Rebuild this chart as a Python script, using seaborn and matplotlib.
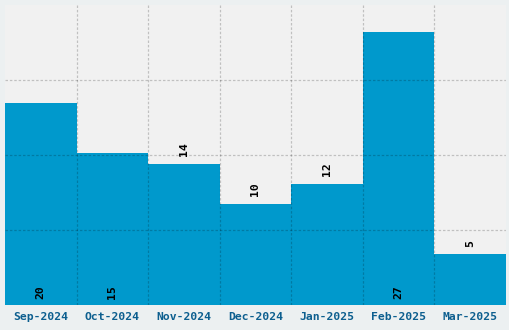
import matplotlib
matplotlib.use("Agg")
import matplotlib.pyplot as plt
import seaborn as sns
import pandas as pd
from matplotlib.ticker import FixedLocator

months = ["Sep-2024", "Oct-2024", "Nov-2024", "Dec-2024", "Jan-2025", "Feb-2025", "Mar-2025"]
values = [20, 15, 14, 10, 12, 27, 5]

df = pd.DataFrame({"month": months, "value": values})

sns.set_style("white")
plt.rcParams["font.family"] = ["DejaVu Sans Mono", "DejaVu Sans"]

fig = plt.figure(figsize=(5.1, 3.3), dpi=100, facecolor="#ecf0f1")
ax = fig.add_axes([5 / 510, 25 / 330, 501 / 510, 300 / 330])
ax.set_facecolor("#f1f1f1")

sns.barplot(data=df, x="month", y="value", color="#0099cc", saturation=1,
            width=1.0, ax=ax, zorder=1)
for p in ax.patches:
    p.set_edgecolor("none")

ymax = max(values) * 1.1
ax.set_xlim(-0.5, len(months) - 0.5)
ax.set_ylim(0, ymax)

ax.yaxis.set_major_locator(FixedLocator([ymax / 4, ymax / 2, ymax * 3 / 4]))
ax.set_yticklabels([])
ax.xaxis.set_minor_locator(FixedLocator([i + 0.5 for i in range(len(months) - 1)]))
ax.grid(False)
gkw = dict(color="black", alpha=0.2, linestyle=(0, (2, 1.5)), linewidth=0.9, zorder=3)
ax.grid(axis="y", which="major", **gkw)
ax.grid(axis="x", which="minor", **gkw)
ax.set_axisbelow(False)

for s in ax.spines.values():
    s.set_visible(False)
ax.tick_params(axis="both", which="both", length=0)
ax.tick_params(axis="x", pad=5, labelsize=8.2, labelcolor="#0d5f8f")
for lbl in ax.get_xticklabels():
    lbl.set_fontweight("bold")
ax.set_xlabel("")
ax.set_ylabel("")

for i, v in enumerate(values):
    if v >= 15:
        ax.annotate(str(v), (i, 0), xytext=(0, 4), textcoords="offset points",
                    rotation=90, ha="center", va="bottom", fontsize=8.2,
                    fontweight="bold", color="black", zorder=4)
    else:
        ax.annotate(str(v), (i, v), xytext=(0, 5.5), textcoords="offset points",
                    rotation=90, ha="center", va="bottom", fontsize=8.2,
                    fontweight="bold", color="black", zorder=4)

fig.savefig("out.png", dpi=100, facecolor=fig.get_facecolor())
